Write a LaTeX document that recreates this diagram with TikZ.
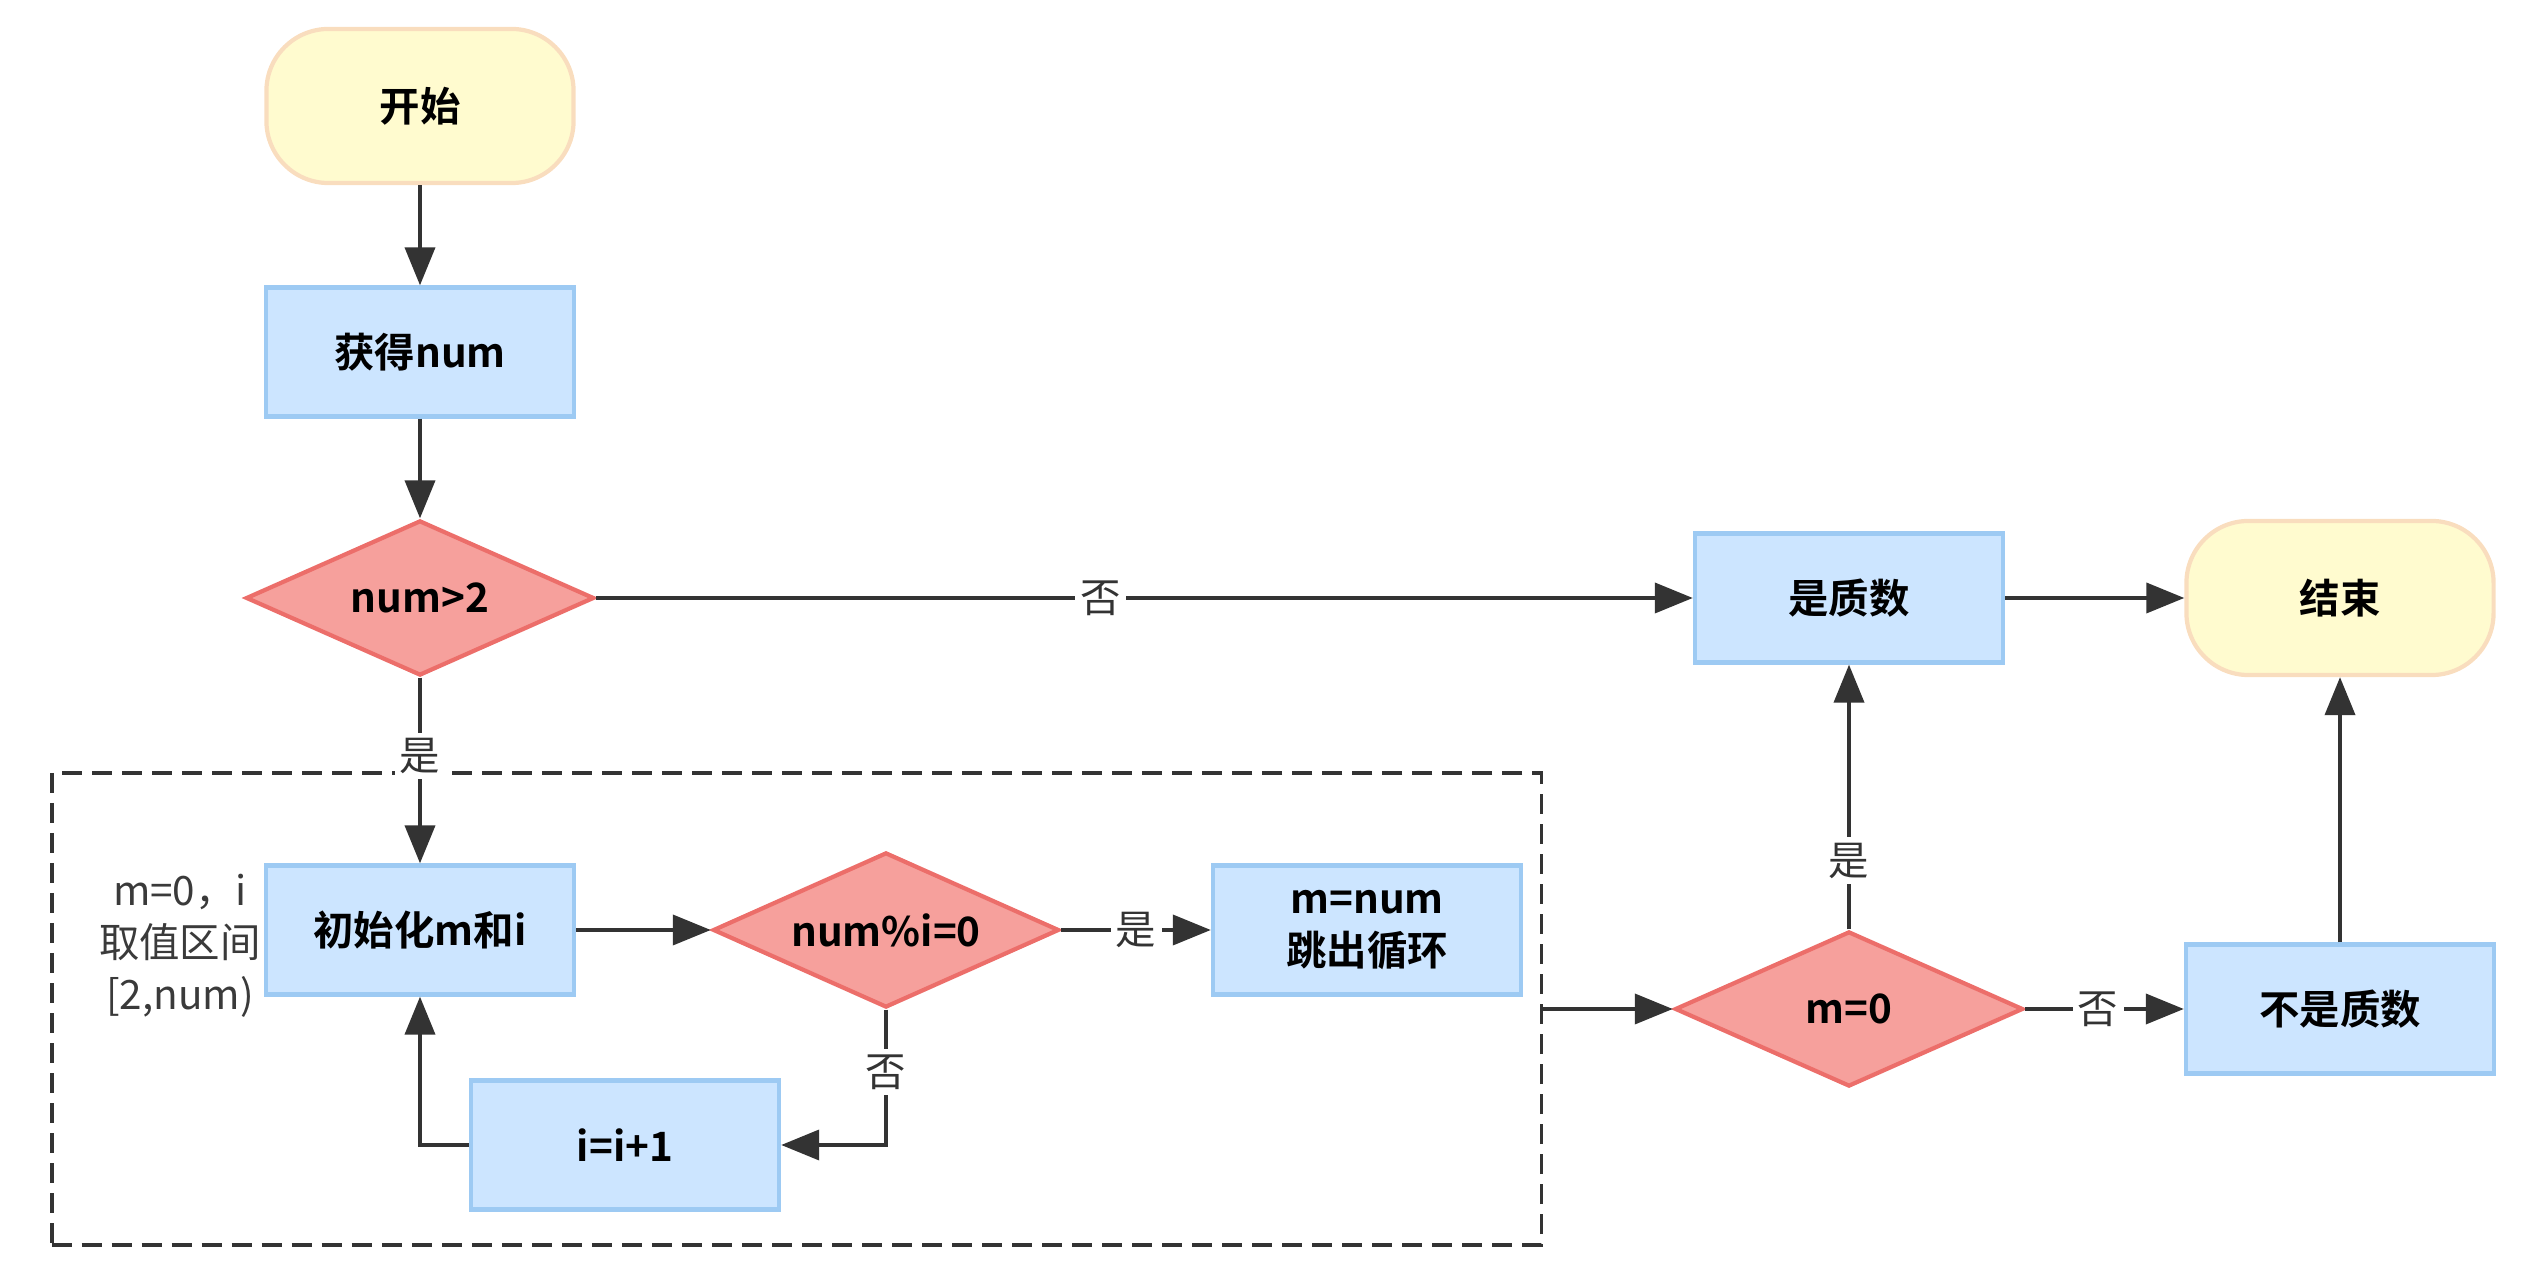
\documentclass[tikz,border=0pt]{standalone}
\usepackage{fontspec}
\setmainfont{Noto Sans CJK SC}[BoldFont={Noto Sans CJK SC Bold}]
\usepackage{tikz}
\usetikzlibrary{arrows.meta}
\usetikzlibrary{shapes}
\usetikzlibrary{positioning}

\definecolor{termfill}{HTML}{FFFBCF}
\definecolor{termline}{HTML}{F9DDBE}
\definecolor{procfill}{HTML}{CCE5FF}
\definecolor{procline}{HTML}{9DCAF3}
\definecolor{decfill}{HTML}{F6A09C}
\definecolor{decline}{HTML}{EC6E6A}
\definecolor{linegray}{HTML}{333333}
\definecolor{notegray}{HTML}{3A3A3A}

\begin{document}
\begin{tikzpicture}[x=0.01cm, y=-0.01cm,
    term/.style={draw=termline, fill=termfill, line width=1.2pt, rounded corners=0.62cm,
        minimum width=3.07cm, minimum height=1.54cm, inner sep=0pt,
        font=\fontsize{11.5}{13}\selectfont\bfseries},
    proc/.style={draw=procline, fill=procfill, line width=1.2pt,
        minimum width=3.08cm, minimum height=1.29cm, inner sep=0pt, align=center,
        font=\fontsize{11.5}{15}\selectfont\bfseries},
    decide/.style={diamond, aspect=2.25, draw=decline, fill=decfill, line width=1.2pt,
        minimum width=3.48cm, minimum height=1.55cm, inner sep=0pt,
        font=\fontsize{11.5}{13}\selectfont\bfseries},
    arr/.style={draw=linegray, line width=1.1pt, -{Triangle[length=0.38cm,width=0.3cm]}},
    lbl/.style={fill=white, inner sep=1.5pt, text=linegray, font=\fontsize{11.5}{13}\selectfont}]

    \useasboundingbox (0,0) rectangle (2536,1280);

    % the loop
    \draw (796.5,1009) node[draw=linegray, line width=1.1pt, dash pattern=on 0.2cm off 0.1cm,
        minimum width=14.89cm, minimum height=4.72cm, inner sep=0pt]      (loop) {};

    \draw (420,106) node[term]                      (start) {开始};
    \draw (420,352) node[proc]                      (read) {获得num};
    \draw (420,598) node[decide]                    (big) {num>2};
    \draw (1849,598) node[proc]                     (prime) {是质数};
    \draw (2340,598) node[term]                     (stop) {结束};
    \draw (420,930) node[proc]                      (init) {初始化m和i};
    \draw (886,930) node[decide, minimum width=3.46cm] (rem) {num\%i=0};
    \draw (1367,930) node[proc]                     (brk) {m=num\\跳出循环};
    \draw (625,1145) node[proc]                     (inc) {i=i+1};
    \draw (1849,1009) node[decide]                  (mzero) {m=0};
    \draw (2340,1009) node[proc]                    (notprime) {不是质数};
    \draw (180,946) node[text=notegray, align=center,
        font=\fontsize{11.5}{14.8}\selectfont]      (note) {m=0，i\\取值区间\\{}[2,num)};

    \draw[arr] (start) -- (read);
    \draw[arr] (read) -- (big);
    \draw[arr] (big) -- node[lbl, pos=0.46] {否} (prime);
    \draw[arr] (big) -- node[lbl, pos=0.42] {是} (init);
    \draw[arr] (init) -- (rem);
    \draw[arr] (rem) -- node[lbl] {是} (brk);
    \draw[arr] (rem) |- node[lbl, pos=0.23] {否} (inc);
    \draw[arr] (inc) -| (init);
    \draw[arr] (loop) -- (mzero);
    \draw[arr] (mzero) -- node[lbl, pos=0.26] {是} (prime);
    \draw[arr] (mzero) -- node[lbl, pos=0.46] {否} (notprime);
    \draw[arr] (prime) -- (stop);
    \draw[arr] (notprime) -- (stop);

\end{tikzpicture}
\end{document}
